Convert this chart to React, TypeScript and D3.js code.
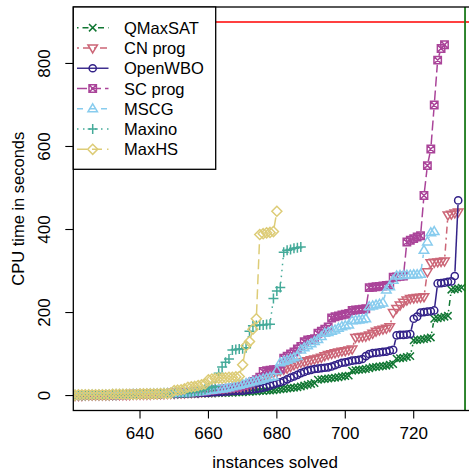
import React from "react";
import * as d3 from "d3";

// ---------- data (cactus plot: sorted CPU times, one value per solved-instance index) ----------
const qmaxsatStart = 618;
const qmaxsat = [
  0, 0, 0, 0, 0, 0, 0, 0, 0, 0, 1, 1,
  1, 1, 1, 1, 1, 1, 1, 1, 2, 2,
  2, 2, 2, 2, 2, 2, 3, 3, 3, 3,
  3, 3, 3, 4, 4, 4, 4, 5, 5, 5,
  5, 5, 6, 6, 6, 7, 7, 7, 8, 8,
  8, 9, 9, 10, 10, 11, 11, 12, 12, 13,
  14, 15, 16, 17, 18, 19, 20, 22, 24, 26,
  28, 30, 38, 39, 40, 41, 42, 43, 44, 46,
  47, 48, 60, 61, 62, 63, 64, 66, 68, 69,
  70, 71, 72, 74, 76, 89, 90, 91, 93, 95,
  133, 134, 135, 136, 138, 140, 185, 186, 188, 190,
  192, 255, 256, 258, 260,
];

const cnStart = 618;
const cnProg = [
  0, 0, 0, 0, 0, 0, 1, 1, 1, 1, 1, 1,
  1, 1, 2, 2, 2, 2, 2, 2, 3, 3,
  3, 3, 3, 3, 4, 4, 4, 4, 5, 5,
  5, 6, 6, 6, 7, 7, 8, 8, 9, 9,
  10, 10, 11, 12, 12, 13, 14, 15, 16, 17,
  18, 20, 22, 25, 28, 32, 40, 48, 52, 55,
  57, 60, 63, 66, 70, 74, 77, 80, 82, 84,
  86, 88, 90, 92, 96, 99, 101, 103, 105, 107,
  108, 110, 112, 140, 141, 142, 143, 146, 150, 155,
  158, 160, 162, 166, 200, 210, 218, 225, 230, 234,
  235, 236, 237, 238, 298, 320, 321, 322, 323, 324,
  435, 437, 440, 442,
];

const openwboStart = 618;
const openwbo = [
  0, 0, 0, 0, 0, 0, 0, 1, 1, 1, 1, 1,
  1, 1, 1, 1, 2, 2, 2, 2, 2, 2,
  2, 3, 3, 3, 3, 3, 3, 4, 4, 4,
  4, 4, 5, 5, 5, 6, 6, 6, 7, 7,
  7, 8, 8, 9, 9, 10, 10, 11, 11, 12,
  12, 13, 14, 15, 16, 17, 19, 21, 24, 27,
  30, 32, 35, 39, 43, 46, 50, 54, 57, 60,
  62, 64, 65, 66, 67, 68, 70, 73, 76, 79,
  80, 82, 84, 85, 86, 88, 95, 100, 102, 103,
  104, 105, 106, 108, 110, 145, 146, 146, 147, 148,
  185, 190, 200, 201, 202, 203, 205, 270, 271, 272,
  274, 275, 288, 470,
];

const scStart = 618;
const scProg = [
  0, 0, 0, 0, 0, 1, 1, 1, 1, 1, 1, 1,
  1, 2, 2, 2, 2, 2, 2, 3, 3, 3,
  3, 3, 4, 4, 4, 4, 5, 5, 5, 6,
  6, 6, 7, 7, 8, 8, 9, 9, 10, 11,
  12, 13, 14, 15, 16, 17, 18, 19, 20, 22,
  24, 27, 30, 34, 38, 44, 58, 60, 61, 62,
  63, 64, 90, 95, 100, 105, 112, 118, 130, 134,
  135, 137, 150, 155, 160, 165, 187, 190, 192, 194,
  196, 198, 205, 206, 207, 208, 209, 260, 261, 262,
  263, 264, 265, 266, 285, 286, 287, 288, 370, 374,
  378, 382, 385, 482, 554, 594, 700, 808, 836, 845,
];

const mscgStart = 618;
const mscg = [
  0, 0, 0, 0, 0, 0, 1, 1, 1, 1, 1, 1,
  1, 1, 2, 2, 2, 2, 2, 2, 3, 3,
  3, 3, 3, 4, 4, 4, 4, 5, 5, 5,
  6, 6, 6, 7, 7, 8, 8, 9, 10, 11,
  12, 13, 14, 15, 16, 17, 19, 21, 23, 25,
  27, 29, 31, 33, 35, 37, 40, 42, 44, 46,
  60, 79, 82, 85, 88, 91, 94, 110, 115, 120,
  125, 130, 135, 142, 150, 152, 155, 158, 162, 166,
  168, 170, 180, 181, 182, 183, 185, 214, 216, 218,
  220, 223, 254, 262, 278, 288, 289, 289, 290, 290,
  291, 291, 292, 350, 370, 392, 395,
];

const maxinoStart = 618;
const maxino = [
  0, 0, 0, 0, 0, 0, 0, 1, 1, 1, 1, 1,
  1, 1, 1, 1, 2, 2, 2, 2, 2, 2,
  3, 3, 3, 3, 3, 4, 4, 4, 4, 5,
  5, 5, 6, 6, 7, 8, 9, 10, 12, 15,
  18, 20, 22, 54, 69, 80, 88, 110, 111, 112,
  113, 115, 155, 168, 169, 170, 170, 171, 172, 234,
  252, 260, 345, 350, 352, 355, 356, 358,
];

const maxhsStart = 618;
const maxhs = [
  1, 1, 1, 1, 2, 2, 2, 2, 2, 2, 2, 2,
  2, 2, 3, 3, 3, 3, 3, 3, 3, 3,
  4, 4, 4, 4, 4, 4, 5, 5, 5, 6,
  12, 13, 14, 16, 20, 21, 22, 24, 26, 28,
  38, 40, 41, 42, 42, 43, 44, 44, 45, 46,
  74, 120, 130, 160, 185, 388, 390, 392, 393, 395,
  444,
];

const seriesNames = ["QMaxSAT", "CN prog", "OpenWBO", "SC prog", "MSCG", "Maxino", "MaxHS"];
const seriesValues = [qmaxsat, cnProg, openwbo, scProg, mscg, maxino, maxhs];
const seriesStarts = [qmaxsatStart, cnStart, openwboStart, scStart, mscgStart, maxinoStart, maxhsStart];

const xTicks = [640, 660, 680, 700, 720];
const yTicks = [0, 200, 400, 600, 800];
const timeout = 900;
const totalLine = 735;

// ---------- styles ----------
const colors = ["#117733", "#CC6677", "#332288", "#AA4499", "#88CCEE", "#44AA99", "#DDCC77"];
const dashes = ["1.5,4,6,4", "2,4,7,4", "", "10,4", "6,6", "1.5,4.5", "10,5"];
const shapes = ["cross", "tridown", "circle", "squarex", "triup", "plus", "diamond"];

const W = 469;
const H = 475;
const L = 73.3, R = 477, T = 7, B = 410.5;
const FONT = "'Liberation Sans', Arial, Helvetica, sans-serif";

function marker(shape: string, cx: number, cy: number, color: string, key: string) {
  const sw = 1.5;
  const common = { fill: "none", stroke: color, strokeWidth: sw };
  switch (shape) {
    case "cross": {
      const r = 3.7;
      return <path key={key} d={`M${cx - r},${cy - r}L${cx + r},${cy + r}M${cx - r},${cy + r}L${cx + r},${cy - r}`} {...common} />;
    }
    case "plus": {
      const r = 5;
      return <path key={key} d={`M${cx - r},${cy}L${cx + r},${cy}M${cx},${cy - r}L${cx},${cy + r}`} {...common} />;
    }
    case "circle":
      return <circle key={key} cx={cx} cy={cy} r={3.6} {...common} />;
    case "triup": {
      const r = 5;
      return <path key={key} d={`M${cx},${cy - r}L${cx + r * 0.95},${cy + r * 0.6}L${cx - r * 0.95},${cy + r * 0.6}Z`} {...common} />;
    }
    case "tridown": {
      const r = 5;
      return <path key={key} d={`M${cx},${cy + r}L${cx + r * 0.95},${cy - r * 0.6}L${cx - r * 0.95},${cy - r * 0.6}Z`} {...common} />;
    }
    case "diamond": {
      const r = 5;
      return <path key={key} d={`M${cx},${cy - r}L${cx + r},${cy}L${cx},${cy + r}L${cx - r},${cy}Z`} {...common} />;
    }
    case "squarex": {
      const r = 3.7;
      return (
        <path
          key={key}
          d={`M${cx - r},${cy - r}H${cx + r}V${cy + r}H${cx - r}ZM${cx - r},${cy - r}L${cx + r},${cy + r}M${cx - r},${cy + r}L${cx + r},${cy - r}`}
          {...common}
        />
      );
    }
  }
  return null;
}

export default function App() {
  const x = d3.scaleLinear().domain([620.5, 738.5]).range([L, R]);
  const y = d3.scaleLinear().domain([-36, 936]).range([B, T]);
  const gap = 4.5;

  const series = seriesNames.map((name, i) => ({
    name,
    color: colors[i],
    dash: dashes[i],
    shape: shapes[i],
    pts: seriesValues[i].map((v, j) => [x(seriesStarts[i] + j), y(v)] as [number, number]),
  }));

  const legendY0 = 27.7;
  const legendDy = 20.27;

  return (
    <svg
      width={W}
      height={H}
      viewBox={`0 0 ${W} ${H}`}
      style={{ position: "fixed", left: 0, top: 0, background: "#fff" }}
      fontFamily={FONT}
    >
      <defs>
        <clipPath id="plotclip">
          <rect x={L} y={T} width={R - L} height={B - T} />
        </clipPath>
      </defs>
      <rect x={0} y={0} width={W} height={H} fill="#fff" />
      <g clipPath="url(#plotclip)">
        {series.map((s, si) => (
          <g key={s.name}>
            {s.pts.slice(1).map((p1, j) => {
              const p0 = s.pts[j];
              const dx = p1[0] - p0[0];
              const dy = p1[1] - p0[1];
              const len = Math.hypot(dx, dy);
              if (len <= 2 * gap) return null;
              const ux = dx / len, uy = dy / len;
              return (
                <line
                  key={`l${si}-${j}`}
                  x1={p0[0] + ux * gap}
                  y1={p0[1] + uy * gap}
                  x2={p1[0] - ux * gap}
                  y2={p1[1] - uy * gap}
                  stroke={s.color}
                  strokeWidth={1.5}
                  strokeDasharray={s.dash || undefined}
                />
              );
            })}
            {s.pts.map((p, j) => marker(s.shape, p[0], p[1], s.color, `m${si}-${j}`))}
          </g>
        ))}
        <line x1={L} x2={R} y1={y(timeout)} y2={y(timeout)} stroke="#ff0000" strokeWidth={1.6} />
        <line x1={x(totalLine)} x2={x(totalLine)} y1={T} y2={B} stroke="#1a7a1a" strokeWidth={1.8} />
      </g>
      {/* frame */}
      <rect x={L} y={T} width={R - L} height={B - T} fill="none" stroke="#000" strokeWidth={1.3} />
      {/* x axis */}
      {xTicks.map((t) => (
        <g key={`xt${t}`}>
          <line x1={x(t)} x2={x(t)} y1={B} y2={B + 8} stroke="#000" strokeWidth={1.1} />
          <text x={x(t)} y={439} textAnchor="middle" fontSize={17}>
            {t}
          </text>
        </g>
      ))}
      <text x={(L + R) / 2} y={468} textAnchor="middle" fontSize={17}>
        instances solved
      </text>
      {/* y axis */}
      {yTicks.map((t) => (
        <g key={`yt${t}`}>
          <line x1={L - 8} x2={L} y1={y(t)} y2={y(t)} stroke="#000" strokeWidth={1.1} />
          <text transform={`translate(50,${y(t)}) rotate(-90)`} textAnchor="middle" fontSize={17}>
            {t}
          </text>
        </g>
      ))}
      <text transform={`translate(24,${(T + B) / 2}) rotate(-90)`} textAnchor="middle" fontSize={16.5}>
        CPU time in seconds
      </text>
      {/* legend */}
      <rect x={L} y={T} width={215.7 - L} height={169.3 - T} fill="#fff" stroke="#000" strokeWidth={1.3} />
      {series.map((s, i) => {
        const ly = legendY0 + i * legendDy;
        return (
          <g key={`lg${i}`}>
            <line x1={77} x2={108.5} y1={ly} y2={ly} stroke={s.color} strokeWidth={1.4} strokeDasharray={s.dash || undefined} />
            {marker(s.shape, 92.7, ly, s.color, `lm${i}`)}
            <text x={124} y={ly} dominantBaseline="central" fontSize={16.5}>
              {s.name}
            </text>
          </g>
        );
      })}
    </svg>
  );
}
